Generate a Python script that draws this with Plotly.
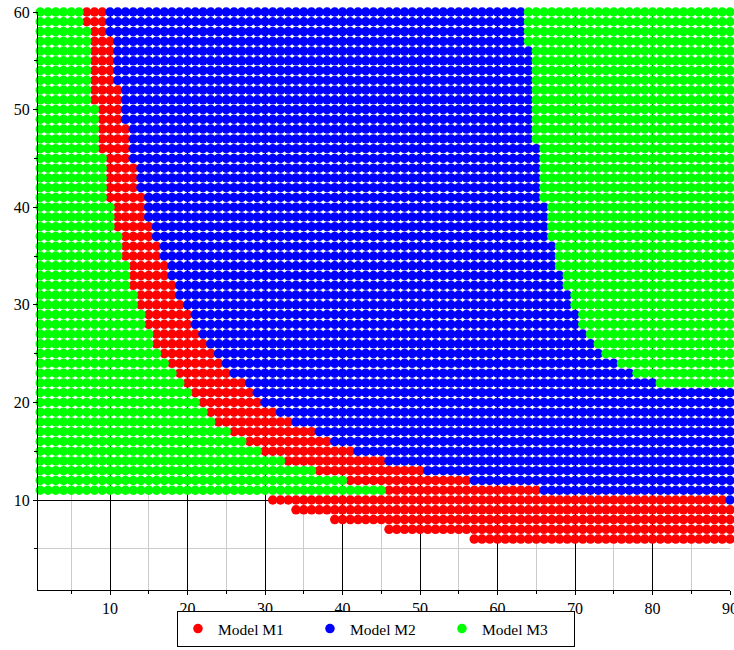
import plotly.graph_objects as go

# Rows of the classification grid (y values, top to bottom)
row_y = [60, 59, 58, 57, 56, 55, 54, 53, 52, 51, 50, 49, 48, 47, 46, 45, 44, 43, 42, 41,
         40, 39, 38, 37, 36, 35, 34, 33, 32, 31, 30, 29, 28, 27, 26, 25, 24, 23, 22, 21,
         20, 19, 18, 17, 16, 15, 14, 13, 12, 11, 10, 9, 8, 7, 6]
# first x evaluated in each row
row_first_x = [1] * 50 + [31, 34, 39, 46, 57]
# last x of the left Model M3 block
m3_left_end = [6, 6, 7, 7, 7, 7, 7, 7, 7, 7, 8, 8, 8, 8, 8, 9, 9, 9, 9, 9,
               10, 10, 10, 11, 11, 11, 12, 12, 12, 13, 13, 14, 14, 15, 15, 16, 17, 18, 19, 20,
               21, 22, 23, 25, 27, 29, 32, 36, 40, 45, 30, 33, 38, 45, 56]
# last x of the Model M1 block
m1_end = [9, 9, 9, 10, 10, 10, 10, 10, 11, 11, 11, 11, 12, 12, 12, 12, 13, 13, 13, 14,
          14, 14, 15, 15, 16, 16, 17, 17, 18, 18, 19, 20, 20, 21, 22, 23, 24, 25, 27, 28,
          29, 31, 33, 36, 38, 41, 45, 50, 56, 65, 89, 90, 90, 90, 90]
# last x of the Model M2 block (M3 to the right of it)
m2_end = [63, 63, 63, 63, 64, 64, 64, 64, 64, 64, 64, 64, 64, 64, 65, 65, 65, 65, 65, 65,
          66, 66, 66, 66, 67, 67, 67, 68, 68, 69, 69, 70, 70, 71, 72, 73, 75, 77, 80, 90,
          90, 90, 90, 90, 90, 90, 90, 90, 90, 90, 90, 90, 90, 90, 90]
x_max = 90

model_names = ["Model M1", "Model M2", "Model M3"]
model_colors = ["#ff0000", "#0000ff", "#00ff00"]

pts = {n: ([], []) for n in model_names}
for y, f, g, r, b in zip(row_y, row_first_x, m3_left_end, m1_end, m2_end):
    for x in range(f, x_max + 1):
        if x <= g:
            m = "Model M3"
        elif x <= r:
            m = "Model M1"
        elif x <= b:
            m = "Model M2"
        else:
            m = "Model M3"
        pts[m][0].append(x)
        pts[m][1].append(y)

fig = go.Figure()
for name, col in zip(model_names, model_colors):
    fig.add_trace(go.Scatter(
        x=pts[name][0], y=pts[name][1], mode="markers", name=name,
        marker=dict(color=col, size=9.5, line=dict(width=0)),
        cliponaxis=False,
    ))

font_family = "Liberation Serif"
axis_common = dict(
    showline=True, linecolor="black", linewidth=1,
    ticks="outside", ticklen=4, tickcolor="black", tickwidth=1,
    showgrid=True, gridcolor="#000000", gridwidth=1,
    zeroline=False, mirror=False, automargin=False,
    ticklabeloverflow="allow",
    tickfont=dict(family=font_family, size=16, color="black"),
    minor=dict(dtick=5, showgrid=True, gridcolor="#cccccc", gridwidth=1,
               ticks="outside", ticklen=3, tickcolor="black"),
)
fig.update_xaxes(range=[0.71, 90], dtick=10, tick0=0, **axis_common)
fig.update_yaxes(range=[0.78, 60], dtick=10, tick0=0, **axis_common)

fig.update_layout(
    width=734, height=650,
    margin=dict(l=38, r=4, t=12, b=60),
    plot_bgcolor="white", paper_bgcolor="white",
    font=dict(family=font_family, color="black"),
    legend=dict(
        orientation="h",
        xref="container", x=0.2411, xanchor="left",
        yref="container", y=0.06, yanchor="top",
        bordercolor="black", borderwidth=1, bgcolor="white",
        font=dict(family=font_family, size=15.5, color="black"),
        entrywidth=87, entrywidthmode="pixels",
    ),
)

fig.write_html("out.html", config={"displayModeBar": False},
               post_script="document.body.style.margin='0px';")
